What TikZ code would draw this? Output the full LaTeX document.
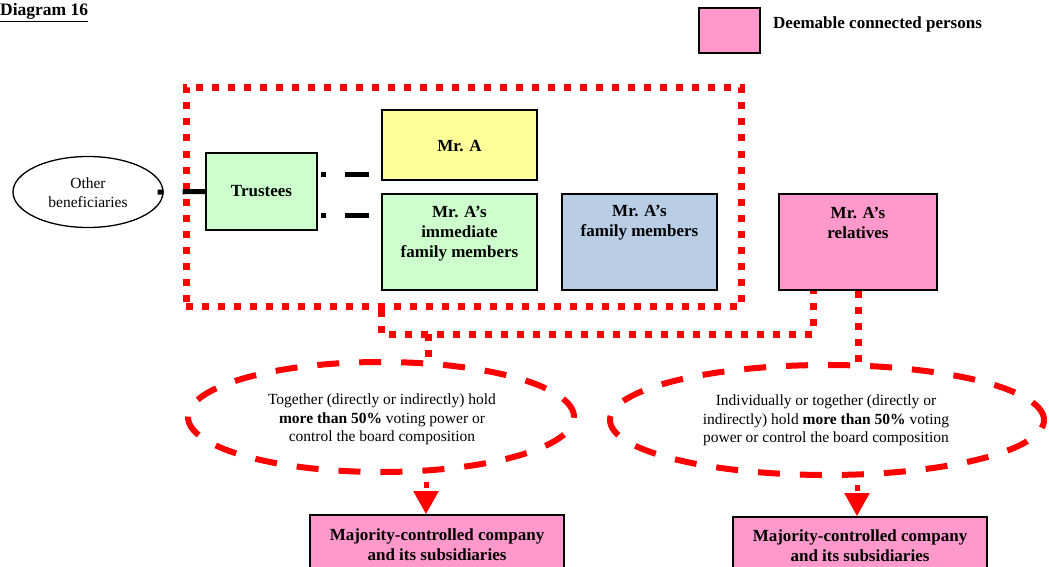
\documentclass[tikz,border=0pt]{standalone}
\usepackage{fontspec}
\setmainfont{Liberation Serif}
\usetikzlibrary{shapes.geometric,arrows.meta}
\definecolor{pinkc}{HTML}{FF99CC}
\definecolor{yelc}{HTML}{FFFF99}
\definecolor{grnc}{HTML}{CCFFCC}
\definecolor{bluc}{HTML}{B9CDE5}
\definecolor{redc}{HTML}{FF0000}
\begin{document}
\begin{tikzpicture}[x=1pt,y=-1pt,
  box/.style={draw=black, line width=1.6pt, inner sep=0pt},
  bl/.style={font=\fontsize{17}{20}\selectfont\bfseries, align=center},
  rg/.style={font=\fontsize{15.5}{18.7}\selectfont, align=center},
  blk/.style={draw=black, line width=5pt},
  dotred/.style={draw=redc, line width=7pt, dash pattern=on 7pt off 9pt},
  dashred/.style={draw=redc, line width=6pt, dash pattern=on 22pt off 20pt},
  arr/.style={draw=redc, line width=5pt, dash pattern=on 6pt off 40pt, shorten <=10pt, -{Triangle[width=24pt,length=23pt]}}
]
\clip (0,0) rectangle (1049,567);
\fill[white] (0,0) rectangle (1049,567);

% title and legend
\node[anchor=base west, inner sep=0pt, font=\fontsize{17.5}{20}\selectfont\bfseries] (title) at (0,16) {\underline{Diagram 16}};
\node[box, fill=pinkc, minimum width=61pt, minimum height=45pt] (leg) at (729.5,30.5) {};
\node[anchor=west, inner sep=0pt, bl] (legt) at (773,24.5) {Deemable connected persons};

% group
\node[dotred, minimum width=555pt, minimum height=219pt, inner sep=0pt] (grp) at (463.5,197) {};

% boxes
\node[draw=black, line width=1.3pt, ellipse, minimum width=150pt, minimum height=71pt, inner sep=0pt] (ob) at (88,192) {};
\node[rg] (obt) at (88,193) {Other\\beneficiaries};
\node[box, fill=grnc, minimum width=111pt, minimum height=77pt, bl] (tr) at (261.5,191.5) {Trustees};
\node[box, fill=yelc, minimum width=155pt, minimum height=70pt] (ma) at (459.5,145) {};
\node[bl] (mat) at (459.5,146) {Mr. A};
\node[box, fill=grnc, minimum width=155pt, minimum height=96pt] (imm) at (459.5,242) {};
\node[bl] (immt) at (459.5,233.5) {Mr. A’s\\immediate\\family members};
\node[box, fill=bluc, minimum width=155pt, minimum height=96pt] (fam) at (639.5,242) {};
\node[bl] (famt) at (639.5,223) {Mr. A’s\\family members};
\node[box, fill=pinkc, minimum width=158pt, minimum height=96pt] (rel) at (858,242) {};
\node[bl] (relt) at (858,223) {Mr. A’s\\relatives};

% connectors (black)
\draw[blk, dash pattern=on 6pt off 19pt on 30pt off 10pt, shorten <=-6pt] (ob.east) -- (tr.west);
\draw[blk, dash pattern=on 5pt off 19pt on 24pt off 50pt, shorten <=3pt] ([yshift=17.5pt]tr.east) -- ([yshift=17.5pt]tr.east -| ma.west);
\draw[blk, dash pattern=on 5pt off 19pt on 24pt off 50pt, shorten <=3pt] ([yshift=-23.5pt]tr.east) -- ([yshift=-23.5pt]tr.east -| imm.west);

% ellipses
\node[ellipse, dashred, minimum width=386pt, minimum height=110pt, inner sep=0pt] (ell1) at (381,417) {};
\node[rg] (ell1t) at (382,419.5)
  {Together (directly or indirectly) hold\\\textbf{more than 50\%} voting power or\\control the board composition};
\node[ellipse, dashred, minimum width=434pt, minimum height=110pt, inner sep=0pt] (ell2) at (827,420) {};
\node[rg] (ell2t) at (826,420.5)
  {Individually or together (directly or\\indirectly) hold \textbf{more than 50\%} voting\\power or control the board composition};

% red dotted connectors
\coordinate (j) at (813,334);
\coordinate (k) at (428,334);
\draw[dotred] (imm.west |- grp.south) |- (j) -- (j |- rel.south);
\draw[dotred] (k) -- (k |- ell1.north);
\draw[dotred] (rel.south) -- (rel.south |- ell2.north);

% bottom boxes
\node[box, fill=pinkc, minimum width=254pt, minimum height=60pt] (bx1) at (437,545) {};
\node[bl] (bx1t) at (437,545) {Majority-controlled company\\and its subsidiaries};
\node[box, fill=pinkc, minimum width=254pt, minimum height=60pt] (bx2) at (860,547) {};
\node[bl] (bx2t) at (860,545.5) {Majority-controlled company\\and its subsidiaries};

% arrows
\coordinate (a1) at (426,472);
\coordinate (a2) at (857,475);
\draw[arr] (a1) -- (a1 |- bx1.north);
\draw[arr] (a2) -- (a2 |- bx2.north);
\end{tikzpicture}
\end{document}
